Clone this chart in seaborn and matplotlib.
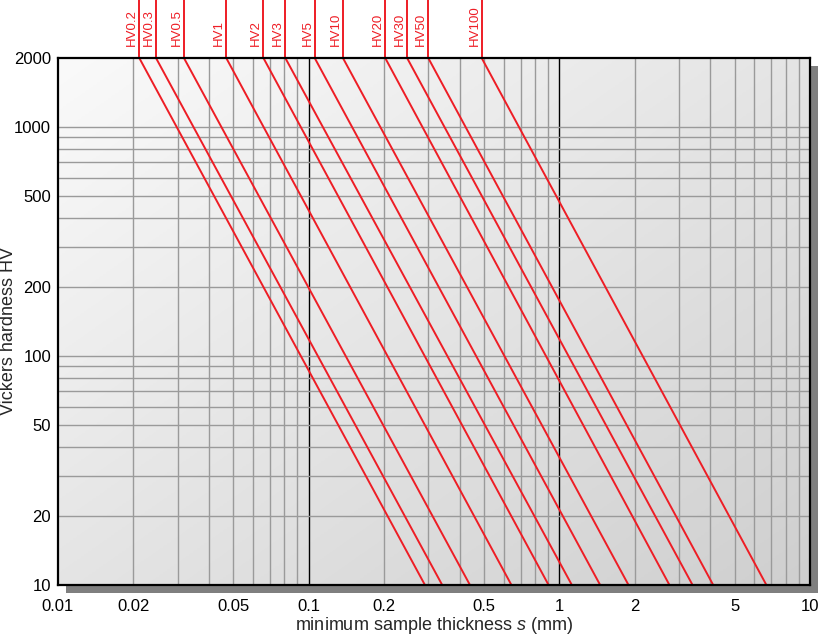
import numpy as np
import pandas as pd
import matplotlib
matplotlib.use("Agg")
import matplotlib.pyplot as plt
import matplotlib.transforms as mtransforms
from matplotlib.patches import Rectangle
from matplotlib.colors import LinearSegmentedColormap
import seaborn as sns

# test loads and where each line meets HV=2000 (top) and HV=10 (bottom)
LOADS = ["HV0.2", "HV0.3", "HV0.5", "HV1", "HV2", "HV3", "HV5",
         "HV10", "HV20", "HV30", "HV50", "HV100"]
S_AT_TOP = [0.0211, 0.0246, 0.0318, 0.0469, 0.066, 0.0807, 0.1057,
            0.137, 0.202, 0.247, 0.300, 0.49]
S_AT_BOTTOM = [0.291, 0.341, 0.440, 0.644, 0.906, 1.122, 1.455,
               1.888, 2.75, 3.40, 4.11, 6.70]
HV_TOP = 2000
HV_BOTTOM = 10

X_TICKS = [0.01, 0.02, 0.05, 0.1, 0.2, 0.5, 1, 2, 5, 10]
X_TICK_LABELS = ["0.01", "0.02", "0.05", "0.1", "0.2", "0.5", "1", "2", "5", "10"]
Y_TICKS = [10, 20, 50, 100, 200, 500, 1000, 2000]
Y_TICK_LABELS = ["10", "20", "50", "100", "200", "500", "1000", "2000"]

RED = "#ee1d25"

sns.set_style("white")
plt.rcParams["font.family"] = ["Liberation Sans", "DejaVu Sans"]
plt.rcParams["mathtext.fontset"] = "custom"
plt.rcParams["mathtext.rm"] = "Liberation Sans"
plt.rcParams["mathtext.it"] = "Liberation Sans:italic"

rows = []
for name, s_top, s_bot in zip(LOADS, S_AT_TOP, S_AT_BOTTOM):
    rows.append({"load": name, "s": s_top, "HV": HV_TOP})
    rows.append({"load": name, "s": s_bot, "HV": HV_BOTTOM})
df = pd.DataFrame(rows)

W, H = 823, 637
fig = plt.figure(figsize=(W / 100, H / 100), dpi=100)
left, right, top, bottom = 58, 810, 58, 585
pos = [left / W, 1 - bottom / H, (right - left) / W, (bottom - top) / H]

# drop shadow
shadow = Rectangle((pos[0] + 8 / W, pos[1] - 8 / H), pos[2], pos[3],
                   transform=fig.transFigure, facecolor="#7f7f7f",
                   edgecolor="none", zorder=0)
fig.patches.append(shadow)

# gradient background axes
bg = fig.add_axes(pos, zorder=1)
gx, gy = np.meshgrid(np.linspace(0, 1, 200), np.linspace(0, 1, 200))
grad = (gx + gy) / 2
cmap = LinearSegmentedColormap.from_list("bg", ["#fafafa", "#cfcfcf"])
bg.imshow(grad, cmap=cmap, aspect="auto", extent=[0, 1, 0, 1], origin="upper")
bg.set_axis_off()

ax = fig.add_axes(pos, zorder=2)
ax.set_facecolor("none")
ax.set_xscale("log")
ax.set_yscale("log")
ax.set_xlim(0.01, 10)
ax.set_ylim(HV_BOTTOM, HV_TOP)

# grid
for dec in [0.01, 0.1, 1]:
    for m in range(2, 10):
        ax.axvline(dec * m, color="#9a9a9a", lw=1.0, zorder=1)
for xv in [0.1, 1]:
    ax.axvline(xv, color="black", lw=1.0, zorder=1)
for dec in [10, 100, 1000]:
    for m in range(1, 10):
        v = dec * m
        if HV_BOTTOM < v < HV_TOP:
            ax.axhline(v, color="#9a9a9a", lw=1.0, zorder=1)

palette = {name: RED for name in LOADS}
sns.lineplot(data=df, x="s", y="HV", hue="load", palette=palette,
             units="load", estimator=None, legend=False, lw=1.4, ax=ax, zorder=3)

# load labels above the plot
blend = mtransforms.blended_transform_factory(ax.transData, ax.transAxes)
for name, s_top in zip(LOADS, S_AT_TOP):
    ax.plot([s_top, s_top], [1.0, 1.12], color=RED, lw=1.4,
            transform=blend, clip_on=False, zorder=3)
    ax.text(s_top * 0.99, 1.023, name, rotation=90, ha="right", va="bottom",
            color=RED, fontsize=9.5, transform=blend)

ax.set_xticks(X_TICKS)
ax.set_xticklabels(X_TICK_LABELS)
ax.set_yticks(Y_TICKS)
ax.set_yticklabels(Y_TICK_LABELS)
ax.minorticks_off()
ax.tick_params(axis="both", length=0, labelsize=12, colors="black")
ax.tick_params(axis="x", pad=10)
ax.tick_params(axis="y", pad=5)

for sp in ax.spines.values():
    sp.set_color("black")
    sp.set_linewidth(1.6)
    sp.set_zorder(4)

ax.set_xlabel("minimum sample thickness $s$ (mm)", fontsize=13, labelpad=1)
ax.set_ylabel("")
fig.text(9 / W, 1 - 331 / H, "Vickers hardness HV", rotation=90,
         ha="center", va="center", fontsize=13)

fig.savefig("out.png", dpi=100)
